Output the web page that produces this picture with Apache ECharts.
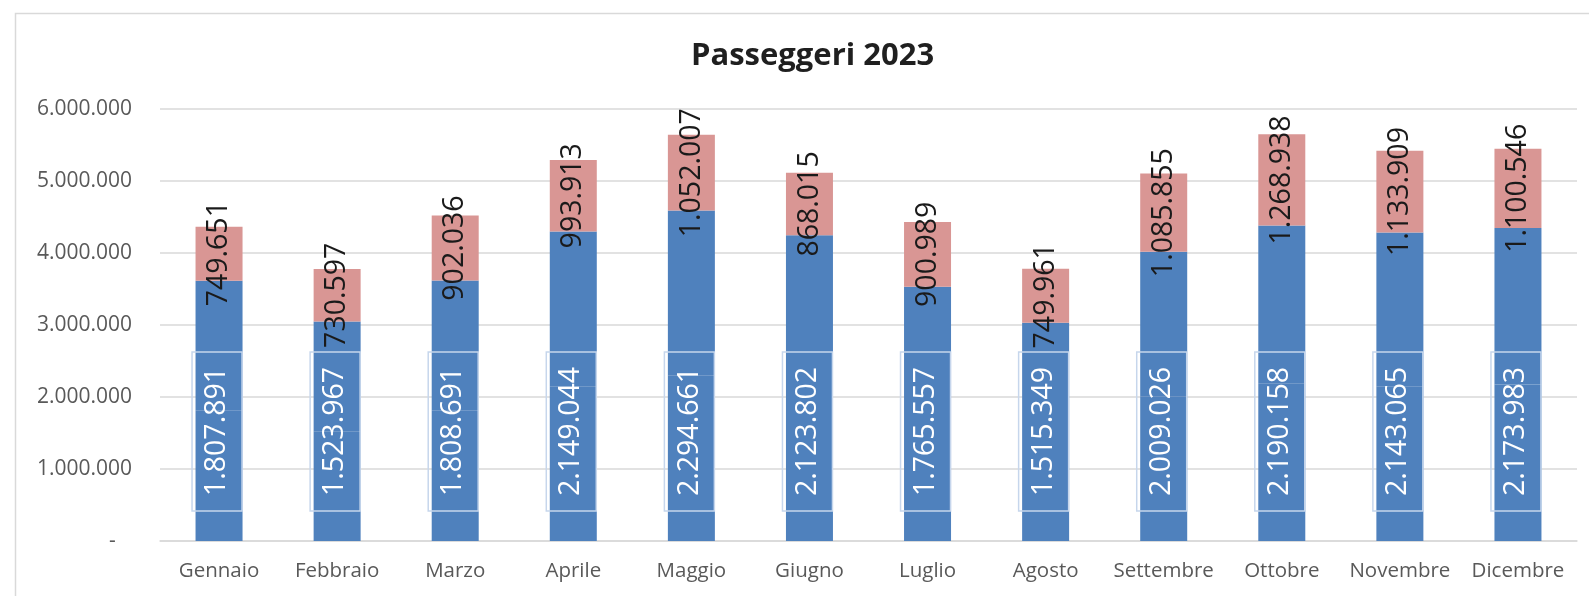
<!DOCTYPE html>
<html>
<head>
<meta charset="utf-8">
<script src="https://cdn.jsdelivr.net/npm/echarts@6/dist/echarts.min.js"></script>
<style>
  html, body { margin: 0; padding: 0; background: #fff; }
  #chart { width: 1589px; height: 596px; }
</style>
</head>
<body>
<div id="chart"></div>
<script>
// mesi
const months = ['Gennaio', 'Febbraio', 'Marzo', 'Aprile', 'Maggio', 'Giugno',
  'Luglio', 'Agosto', 'Settembre', 'Ottobre', 'Novembre', 'Dicembre'];
// parte blu (due segmenti uguali impilati, etichetta sul primo)
const bluInferiore = [1807891, 1523967, 1808691, 2149044, 2294661, 2123802,
  1765557, 1515349, 2009026, 2190158, 2143065, 2173983];
const bluSuperiore = [1807891, 1523967, 1808691, 2149044, 2294661, 2123802,
  1765557, 1515349, 2009026, 2190158, 2143065, 2173983];
// parte rosa in cima
const rosa = [749651, 730597, 902036, 993913, 1052007, 868015,
  900989, 749961, 1085855, 1268938, 1133909, 1100546];
// asse y
const yMin = 0;
const yMax = 6000000;
const yStep = 1000000;

const FONT = '"Open Sans", "Noto Sans", sans-serif';

// formato italiano con punto per le migliaia
function fmt(v) {
  return String(v).replace(/\B(?=(\d{3})+(?!\d))/g, '.');
}

const chart = echarts.init(document.getElementById('chart'));

const option = {
  animation: false,
  backgroundColor: '#fff',
  title: {
    text: 'Passeggeri 2023',
    left: 686,
    top: 36,
    textStyle: {
      fontFamily: FONT,
      fontSize: 31,
      fontWeight: 'bold',
      color: '#1f1f1f',
    },
  },
  graphic: [
    {
      type: 'rect',
      left: 13,
      top: 11,
      shape: { width: 1620, height: 640 },
      style: { fill: 'none', stroke: '#d9d9d9', lineWidth: 1.5 },
      silent: true,
    },
  ],
  grid: {
    left: 160,
    right: 12,
    top: 109,
    bottom: 55,
    containLabel: false,
  },
  xAxis: {
    type: 'category',
    data: months,
    axisLine: { lineStyle: { color: '#d9d9d9', width: 1.5 } },
    axisTick: { show: false },
    axisLabel: {
      interval: 0,
      fontFamily: FONT,
      fontSize: 20.5,
      color: '#595959',
      margin: 20,
    },
  },
  yAxis: {
    type: 'value',
    min: yMin,
    max: yMax,
    interval: yStep,
    axisLine: { show: false },
    axisTick: { show: false },
    splitLine: { lineStyle: { color: '#d9d9d9', width: 1.5 } },
    axisLabel: {
      fontFamily: FONT,
      fontSize: 21,
      color: '#595959',
      margin: 28,
      formatter(v) {
        return v === 0 ? '-   ' : fmt(v);
      },
    },
  },
  series: [
    {
      name: 'Blu 1',
      type: 'bar',
      stack: 'tot',
      barWidth: 47,
      data: bluInferiore,
      itemStyle: { color: '#4f81bd' },
      label: {
        show: true,
        position: 'insideBottom',
        distance: 30,
        rotate: 90,
        align: 'left',
        verticalAlign: 'middle',
        offset: [0, -2],
        fontFamily: FONT,
        fontSize: 28.5,
        lineHeight: 36,
        color: '#ffffff',
        padding: [7, 15],
        borderColor: '#c6d6ec',
        borderWidth: 1.5,
        formatter: (p) => fmt(p.value),
      },
    },
    {
      name: 'Blu 2',
      type: 'bar',
      stack: 'tot',
      barWidth: 47,
      data: bluSuperiore,
      itemStyle: { color: '#4f81bd' },
    },
    {
      name: 'Rosa',
      type: 'bar',
      stack: 'tot',
      barWidth: 47,
      data: rosa,
      itemStyle: { color: '#d99694' },
      label: {
        show: true,
        position: 'inside',
        rotate: 90,
        fontFamily: FONT,
        fontSize: 28.5,
        color: '#1a1a1a',
        formatter: (p) => fmt(p.value),
      },
    },
  ],
};

chart.setOption(option);
</script>
</body>
</html>
